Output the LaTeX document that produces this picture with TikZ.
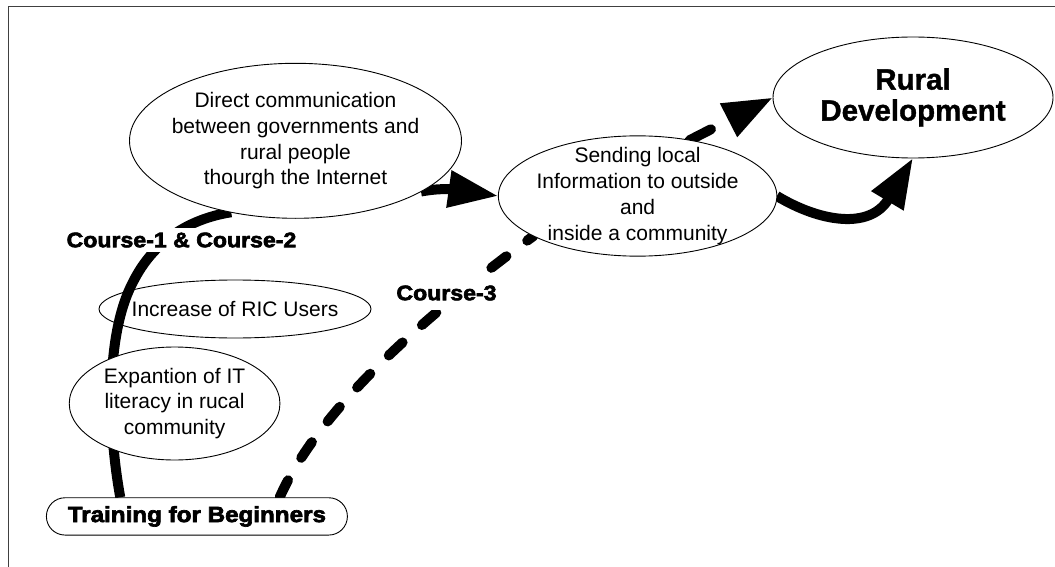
\documentclass[tikz,border=0pt]{standalone}
\usepackage{fontspec}
\setmainfont{Liberation Sans}
\newfontfamily\heavyfont{Liberation Sans}[UprightFont=* Bold,FakeStretch=1.1,FakeBold=3]
\newfontfamily\titlefont{Liberation Sans}[UprightFont=* Bold,FakeBold=1.2]
\usetikzlibrary{shapes.geometric,arrows.meta}
\pgfdeclarelayer{back}
\pgfsetlayers{back,main}
\tikzset{
  oval/.style={ellipse,draw,line width=0.9pt,fill=white,inner sep=0pt,outer sep=0pt},
  txt/.style={align=center,font=\fontsize{21}{25.8}\selectfont,inner sep=0pt},
  bigtxt/.style={align=center,font=\titlefont\fontsize{29.5}{31}\selectfont,inner sep=0pt},
  course/.style={font=\heavyfont\fontsize{21}{25}\selectfont,fill=white,inner xsep=3pt,inner ysep=5pt},
  plainflow/.style={line width=10pt},
  dashflow/.style={line width=10pt,line cap=round,dash pattern=on 19pt off 26pt},
  tip/.style={-{Triangle[length=50pt,width=35pt]}},
  frame/.style={line width=1.5pt,black!75}
}
\begin{document}
\begin{tikzpicture}[x=1pt,y=-1pt]
\useasboundingbox (0,0) rectangle (1055,567);

% outcome ovals
\node[oval,minimum width=332pt,minimum height=155pt,
      label={[txt]center:{Direct communication\\between governments and\\rural people\\thourgh the Internet}}]
      (direct) at (295.5,140.8) {};
\node[oval,minimum width=278.5pt,minimum height=120.3pt,
      label={[txt]center:{Sending local\\Information to outside\\and\\inside a community}}]
      (send) at (637.6,196) {};
\node[oval,minimum width=280pt,minimum height=121pt,
      label={[bigtxt]center:{Rural\\Development}}]
      (rural) at (913,97.5) {};
\node[oval,fill=none,minimum width=272pt,minimum height=58pt,
      label={[txt]center:{Increase of RIC Users}}]
      (ric) at (235,309) {};
\node[oval,minimum width=210.7pt,minimum height=113pt,
      label={[txt]center:{Expantion of IT\\literacy in rucal\\community}}]
      (literacy) at (174.6,403.5) {};

% starting point
\node[draw,line width=0.9pt,fill=white,rounded corners=18.6pt,minimum width=301pt,
      minimum height=37.3pt,inner sep=0pt,font=\heavyfont\fontsize{22}{26}\selectfont]
      (train) at (196.9,516.4) {Training for Beginners};

% course labels
\node[course] (c12) at (181.5,240) {Course-1 \& Course-2};
\node[course,inner ysep=10pt] (c3) at (446.5,293) {Course-3};

\begin{pgfonlayer}{back}
  \draw[frame] (8.5,567) -- (8.5,6.5) -- (1055,6.5);
  % Course-1 & Course-2
  \draw[plainflow] (train.166) .. controls (108,430) and (105,335) .. (133,282)
        .. controls (153,242) and (188,219) .. (direct.-132);
  \draw[plainflow,tip] (direct.-22) .. controls (450,186) and (470,192) .. (send.west);
  % Course-3
  \draw[dashflow] (train.13.65) .. controls (322,402) and (440,305) .. (send.-159.5);
  \draw[dashflow,tip,dash pattern=on 24pt off 27pt] (send.47.5) -- (rural.west);
  % towards rural development
  \draw[plainflow,tip] (send.east) .. controls (820,222) and (870,230) .. (rural.south);
\end{pgfonlayer}
\end{tikzpicture}
\end{document}
